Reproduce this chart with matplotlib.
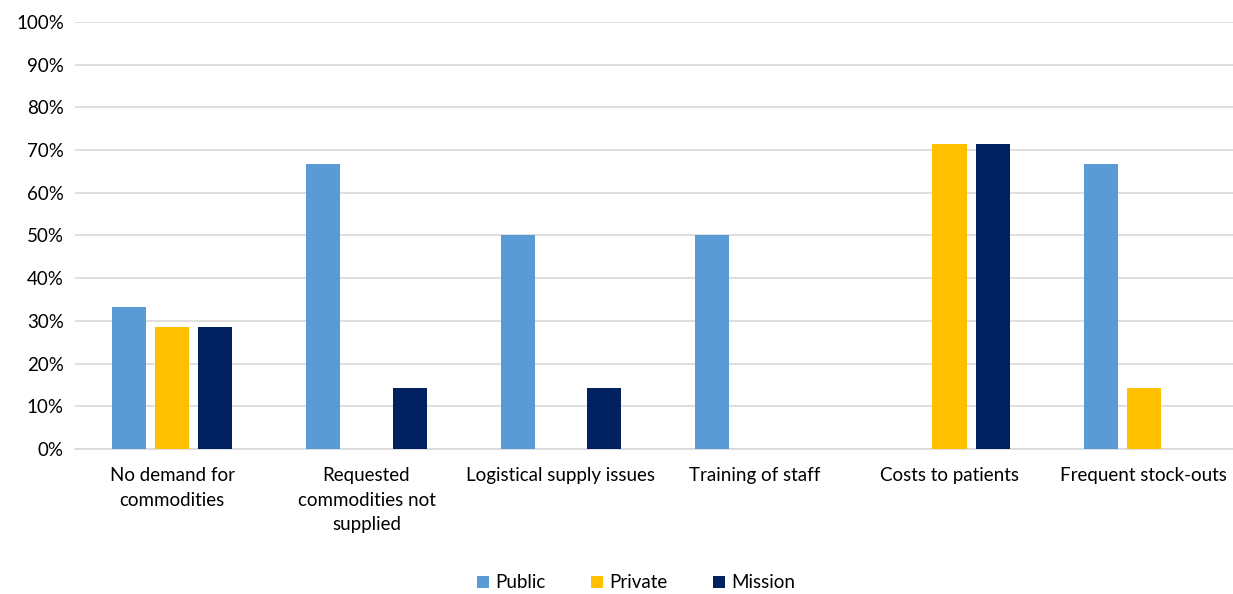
import matplotlib.pyplot as plt
import numpy as np
from matplotlib.ticker import PercentFormatter

plt.rcParams['font.family'] = ['Lato', 'DejaVu Sans']

categories = ["No demand for\ncommodities", "Requested\ncommodities not\nsupplied",
              "Logistical supply issues", "Training of staff",
              "Costs to patients", "Frequent stock-outs"]
public = [33.3, 66.7, 50.0, 50.0, 0.0, 66.7]
private = [28.6, 0.0, 0.0, 0.0, 71.4, 14.3]
mission = [28.6, 14.3, 14.3, 0.0, 71.4, 0.0]

series = [("Public", public, "#5B9BD5"),
          ("Private", private, "#FFC000"),
          ("Mission", mission, "#002060")]

W, H = 1233, 594
fig = plt.figure(figsize=(W / 100, H / 100), dpi=100)
ax = fig.add_axes([75 / W, 1 - 449 / H, (1241 - 75) / W, (449 - 22) / H])

x = np.arange(len(categories))
bw = 0.175
step = 0.222
for i, (name, vals, col) in enumerate(series):
    ax.bar(x + (i - 1) * step, vals, bw, color=col, label=name, zorder=3)

ax.set_xlim(-0.5, len(categories) - 0.5)
ax.set_ylim(0, 100)
ax.set_yticks(np.arange(0, 101, 10))
ax.yaxis.set_major_formatter(PercentFormatter(decimals=0))
ax.grid(axis='y', color='#D9D9D9', linewidth=1.2, zorder=0)
for s in ['top', 'right', 'left']:
    ax.spines[s].set_visible(False)
ax.spines['bottom'].set_color('#D9D9D9')
ax.spines['bottom'].set_linewidth(1.2)
ax.tick_params(axis='both', length=0, labelsize=13.5, colors='#000000')
ax.tick_params(axis='y', pad=8)
ax.tick_params(axis='x', pad=13)
ax.set_xticks(x)
ax.set_xticklabels(categories, linespacing=1.55)

fig.legend(loc='center', bbox_to_anchor=(636 / W, 1 - 583 / H), ncol=3,
           frameon=False, fontsize=13.5, handlelength=0.65, handleheight=0.65,
           handletextpad=0.35, columnspacing=2.4)

fig.savefig("out.png", dpi=100)
